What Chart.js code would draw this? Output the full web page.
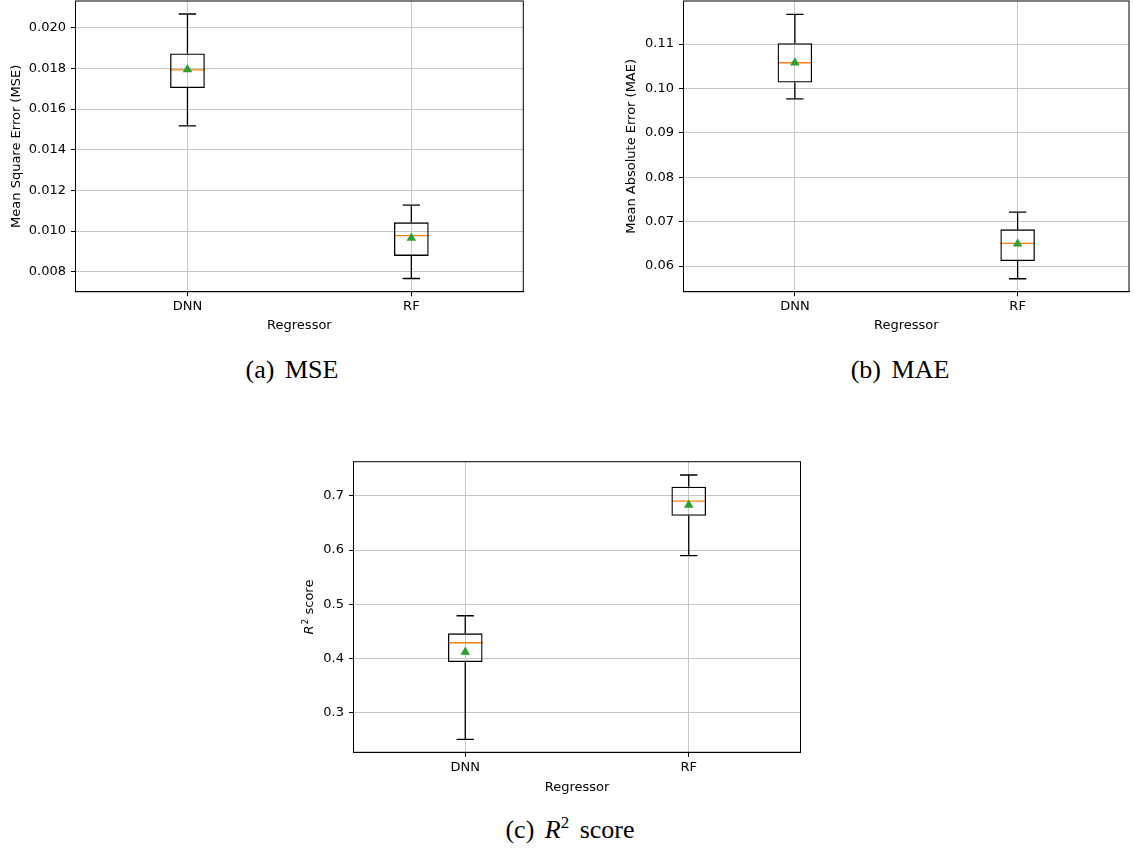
<!DOCTYPE html>
<html>
<head>
<meta charset="utf-8">
<script src="https://cdn.jsdelivr.net/npm/chart.js@4.4.1/dist/chart.umd.min.js"></script>
<style>
  body { margin: 0; background: #fff; width: 1135px; height: 850px; position: relative; overflow: hidden; }
  canvas { position: absolute; }
  .cap { position: absolute; width: 240px; height: 30px; line-height: 30px; text-align: center;
         font-family: 'Liberation Serif', serif; font-size: 26px; color: #000; white-space: nowrap; word-spacing: 4px; }
  .cap sup { font-size: 17px; line-height: 0; }
</style>
</head>
<body>
<canvas id="mse" width="530" height="340" style="left:0;top:0"></canvas>
<canvas id="mae" width="519" height="340" style="left:616px;top:0"></canvas>
<canvas id="r2" width="515" height="347" style="left:293px;top:455px"></canvas>
<div class="cap" style="left:172px;top:355px">(a) MSE</div>
<div class="cap" style="left:780px;top:355px">(b) MAE</div>
<div class="cap" style="left:450px;top:815px">(c) <i>R</i><sup>2</sup> score</div>

<script>
const regressors = ['DNN', 'RF'];

// box statistics per regressor: whisker low, Q1, median, Q3, whisker high, mean
const mseLow = [0.01517, 0.00767];
const mseQ1 = [0.01703, 0.00878];
const mseMedian = [0.01792, 0.00978];
const mseQ3 = [0.01873, 0.01043];
const mseHigh = [0.02067, 0.01128];
const mseMean = [0.01794, 0.00966];
const mseTicks = [0.008, 0.010, 0.012, 0.014, 0.016, 0.018, 0.020];

const maeLow = [0.09766, 0.05714];
const maeQ1 = [0.10133, 0.06113];
const maeMedian = [0.10578, 0.06512];
const maeQ3 = [0.11018, 0.06826];
const maeHigh = [0.11670, 0.07213];
const maeMean = [0.10580, 0.06504];
const maeTicks = [0.06, 0.07, 0.08, 0.09, 0.10, 0.11];

const r2Low = [0.2515, 0.5895];
const r2Q1 = [0.3939, 0.6632];
const r2Median = [0.4293, 0.6902];
const r2Q3 = [0.4466, 0.7166];
const r2High = [0.4790, 0.7381];
const r2Mean = [0.4121, 0.6829];
const r2Ticks = [0.3, 0.4, 0.5, 0.6, 0.7];

const font = { family: 'DejaVu Sans', size: 13 };

// whiskers, caps and median lines, placed off the box bars
const whiskers = {
  id: 'whiskers',
  beforeDatasetsDraw(chart, args, opts) {
    const { ctx, scales: { y } } = chart;
    const boxes = chart.getDatasetMeta(1).data;
    ctx.save();
    boxes.forEach((bar, i) => {
      const cx = bar.x, half = bar.width / 2;
      const lo = y.getPixelForValue(opts.low[i]);
      const q1 = y.getPixelForValue(opts.q1[i]);
      const q3 = y.getPixelForValue(opts.q3[i]);
      const hi = y.getPixelForValue(opts.high[i]);
      const med = y.getPixelForValue(opts.median[i]);
      ctx.strokeStyle = '#000';
      ctx.lineWidth = 1.3;
      ctx.beginPath();
      ctx.moveTo(cx, lo); ctx.lineTo(cx, q1);
      ctx.moveTo(cx, q3); ctx.lineTo(cx, hi);
      ctx.moveTo(cx - half / 2, lo); ctx.lineTo(cx + half / 2, lo);
      ctx.moveTo(cx - half / 2, hi); ctx.lineTo(cx + half / 2, hi);
      ctx.stroke();
      ctx.strokeStyle = '#ff7f0e';
      ctx.beginPath();
      ctx.moveTo(cx - half, med); ctx.lineTo(cx + half, med);
      ctx.stroke();
    });
    ctx.restore();
  }
};

// full axes frame (top and right spines too)
const frame = {
  id: 'frame',
  afterDraw(chart) {
    const { ctx, chartArea: a } = chart;
    ctx.save();
    ctx.strokeStyle = '#000';
    ctx.lineWidth = 1;
    ctx.strokeRect(a.left, a.top, a.right - a.left, a.bottom - a.top);
    ctx.restore();
  }
};

// y label with italic R and superscript 2
const mathTitle = {
  id: 'mathTitle',
  afterDraw(chart) {
    const { ctx, chartArea: a, scales: { y } } = chart;
    const cx = y.left + 17, cy = (a.top + a.bottom) / 2;
    ctx.save();
    ctx.fillStyle = '#000';
    ctx.textBaseline = 'middle';
    const fR = 'italic 13px "DejaVu Sans"', f2 = '9px "DejaVu Sans"', fS = '13px "DejaVu Sans"';
    ctx.font = fR; const wR = ctx.measureText('R').width;
    ctx.font = f2; const w2 = ctx.measureText('2').width;
    ctx.font = fS; const wS = ctx.measureText(' score').width;
    const w = wR + w2 + 1 + wS;
    ctx.translate(cx, cy);
    ctx.rotate(-Math.PI / 2);
    let x = -w / 2;
    ctx.font = fR; ctx.fillText('R', x, 0); x += wR + 1;
    ctx.font = f2; ctx.fillText('2', x, -4.5); x += w2;
    ctx.font = fS; ctx.fillText(' score', x, 0);
    ctx.restore();
  }
};

function noPad(s) {
  s.paddingTop = 0; s.paddingBottom = 0; s.paddingLeft = 0; s.paddingRight = 0;
}

function boxChart(id, o) {
  const ctx = document.getElementById(id).getContext('2d');
  return new Chart(ctx, {
    type: 'bar',
    data: {
      labels: regressors,
      datasets: [
        {
          type: 'line',
          data: o.mean,
          showLine: false,
          pointStyle: 'triangle',
          pointRadius: 5.5,
          backgroundColor: '#2ca02c',
          borderColor: '#2ca02c',
          borderWidth: 0,
          order: 0
        },
        {
          type: 'bar',
          data: o.q1.map((v, i) => [v, o.q3[i]]),
          backgroundColor: 'rgba(0,0,0,0)',
          borderColor: '#000',
          borderWidth: 1.3,
          borderSkipped: false,
          barPercentage: 0.155,
          categoryPercentage: 1,
          order: 1
        }
      ]
    },
    options: {
      responsive: false,
      animation: false,
      devicePixelRatio: 1,
      layout: { padding: o.pad, autoPadding: false },
      plugins: {
        legend: { display: false },
        tooltip: { enabled: false },
        whiskers: { low: o.low, q1: o.q1, q3: o.q3, high: o.high, median: o.median }
      },
      scales: {
        x: {
          offset: true,
          grid: { color: '#c6c6c6', lineWidth: 1, offset: false, tickLength: 4.5, tickColor: '#000' },
          border: { color: '#000' },
          ticks: { color: '#000', font: font, padding: 3 },
          title: { display: true, text: 'Regressor', color: '#000', font: font, padding: { top: 0, bottom: 6.2 } },
          afterFit: s => { s.height = o.xHeight; noPad(s); }
        },
        y: {
          min: o.min,
          max: o.max,
          afterBuildTicks: s => { s.ticks = o.ticks.map(v => ({ value: v })); },
          grid: { color: '#c6c6c6', lineWidth: 1, tickLength: 4.5, tickColor: '#000' },
          border: { color: '#000' },
          ticks: { color: '#000', font: font, padding: 5, callback: v => Number(v).toFixed(o.digits) },
          title: { display: !!o.yTitle, text: o.yTitle, color: '#000', font: font, padding: { top: o.yTitlePad, bottom: 0 } },
          afterFit: s => { s.width = o.yWidth; noPad(s); }
        }
      }
    },
    plugins: o.extra ? [whiskers, frame, o.extra] : [whiskers, frame]
  });
}

boxChart('mse', {
  low: mseLow, q1: mseQ1, median: mseMedian, q3: mseQ3, high: mseHigh, mean: mseMean,
  ticks: mseTicks, digits: 3, min: 0.00702, max: 0.02131,
  yTitle: 'Mean Square Error (MSE)', yTitlePad: 8.7,
  pad: { left: 0, top: 1, right: 6.7, bottom: 0 }, yWidth: 75.5, xHeight: 48.3
});

boxChart('mae', {
  low: maeLow, q1: maeQ1, median: maeMedian, q3: maeQ3, high: maeHigh, mean: maeMean,
  ticks: maeTicks, digits: 2, min: 0.05422, max: 0.11969,
  yTitle: 'Mean Absolute Error (MAE)', yTitlePad: 8.2,
  pad: { left: 0, top: 1, right: 6, bottom: 0 }, yWidth: 67.5, xHeight: 48.3
});

boxChart('r2', {
  low: r2Low, q1: r2Q1, median: r2Median, q3: r2Q3, high: r2High, mean: r2Mean,
  ticks: r2Ticks, digits: 1, min: 0.2276, max: 0.7626,
  yTitle: '', yTitlePad: 0, extra: mathTitle,
  pad: { left: 0, top: 6.7, right: 7.5, bottom: 0 }, yWidth: 60.5, xHeight: 49.7
});
</script>
</body>
</html>
